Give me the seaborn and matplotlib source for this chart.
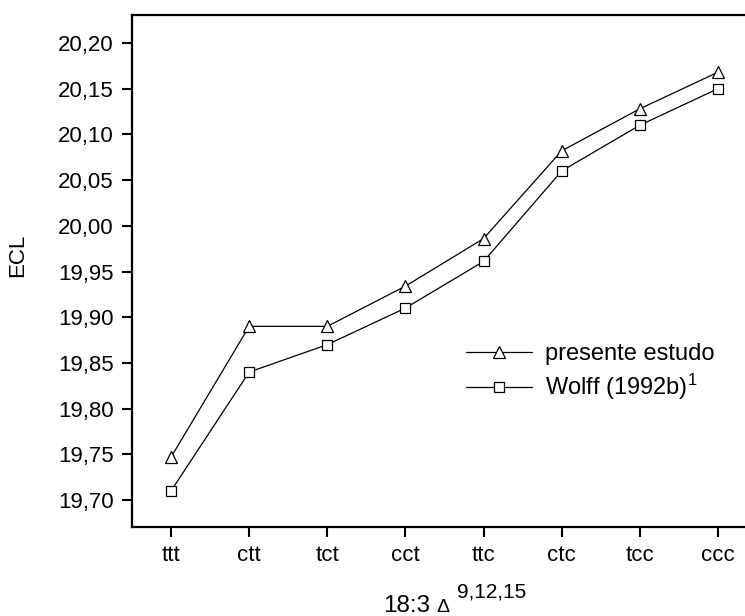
import pandas as pd
import seaborn as sns
import matplotlib.pyplot as plt
from matplotlib.ticker import FuncFormatter

# Configuracoes do 18:3 (delta 9,12,15)
configuracoes = ['ttt', 'ctt', 'tct', 'cct', 'ttc', 'ctc', 'tcc', 'ccc']
ecl_presente = [19.747, 19.890, 19.890, 19.934, 19.986, 20.082, 20.128, 20.168]
ecl_wolff = [19.710, 19.840, 19.870, 19.910, 19.961, 20.060, 20.110, 20.150]
nome_presente = 'presente estudo'
nome_wolff = 'Wolff (1992b)$^1$'
yticks = [19.70, 19.75, 19.80, 19.85, 19.90, 19.95, 20.00, 20.05, 20.10, 20.15, 20.20]

db = pd.concat([
    pd.DataFrame({'conf': configuracoes, 'ECL': ecl_presente, 'serie': nome_presente}),
    pd.DataFrame({'conf': configuracoes, 'ECL': ecl_wolff, 'serie': nome_wolff}),
])

sns.set_style('white')
plt.rcParams['font.family'] = ['Liberation Sans', 'DejaVu Sans']
plt.rcParams['mathtext.fontset'] = 'custom'
plt.rcParams['mathtext.rm'] = 'Liberation Sans'
plt.rcParams['mathtext.it'] = 'Liberation Sans:italic'
plt.rcParams['mathtext.default'] = 'regular'
plt.rcParams['text.color'] = 'black'
plt.rcParams['axes.labelcolor'] = 'black'

fig = plt.figure(figsize=(7.45, 6.16), dpi=100)
ax = fig.add_axes([132 / 745, 89 / 616, 625 / 745, 512 / 616])

sns.lineplot(data=db, x='conf', y='ECL', hue='serie', style='serie',
             markers=['^', 's'], dashes=False, palette=['black', 'black'],
             sort=False, linewidth=0.9, markersize=8.5, markerfacecolor='white',
             markeredgecolor='black', markeredgewidth=0.9, ax=ax, legend=False)

# o quadrado um pouco menor que o triangulo
for linha, tam in zip(ax.lines, [9, 7]):
    linha.set_markersize(tam)

ax.set_xlim(-0.5, 7.5)
ax.set_ylim(19.6705, 20.2306)
ax.set_yticks(yticks)
ax.yaxis.set_major_formatter(FuncFormatter(lambda v, p: f'{v:.2f}'.replace('.', ',')))

for s in ax.spines.values():
    s.set_linewidth(1.6)
    s.set_color('black')
ax.tick_params(axis='both', direction='out', length=7, width=1.5, labelsize=16,
               colors='black', left=True, bottom=True, pad=6)

ax.set_ylabel('ECL', fontsize=16)
ax.yaxis.set_label_coords(-0.166, 0.531)
ax.set_xlabel('')

# rotulo do eixo x: 18:3 delta com sobrescrito
fig.text(383 / 745, 1 - 612 / 616, '18:3', fontsize=17.5, va='baseline', ha='left')
fig.text(436 / 745, 1 - 612 / 616, 'Δ', fontsize=14, va='baseline', ha='left')
fig.text(457 / 745, 1 - 597 / 616, '9,12,15', fontsize=15, va='baseline', ha='left')

ax.legend(handles=ax.lines, labels=[nome_presente, nome_wolff], loc='upper left',
          bbox_to_anchor=(466 / 745, 1 - 343 / 616), bbox_transform=fig.transFigure,
          frameon=False, fontsize=17, handlelength=2.8, handletextpad=0.55,
          labelspacing=0.3, borderpad=0, borderaxespad=0)

fig.savefig('out.png', dpi=100)
